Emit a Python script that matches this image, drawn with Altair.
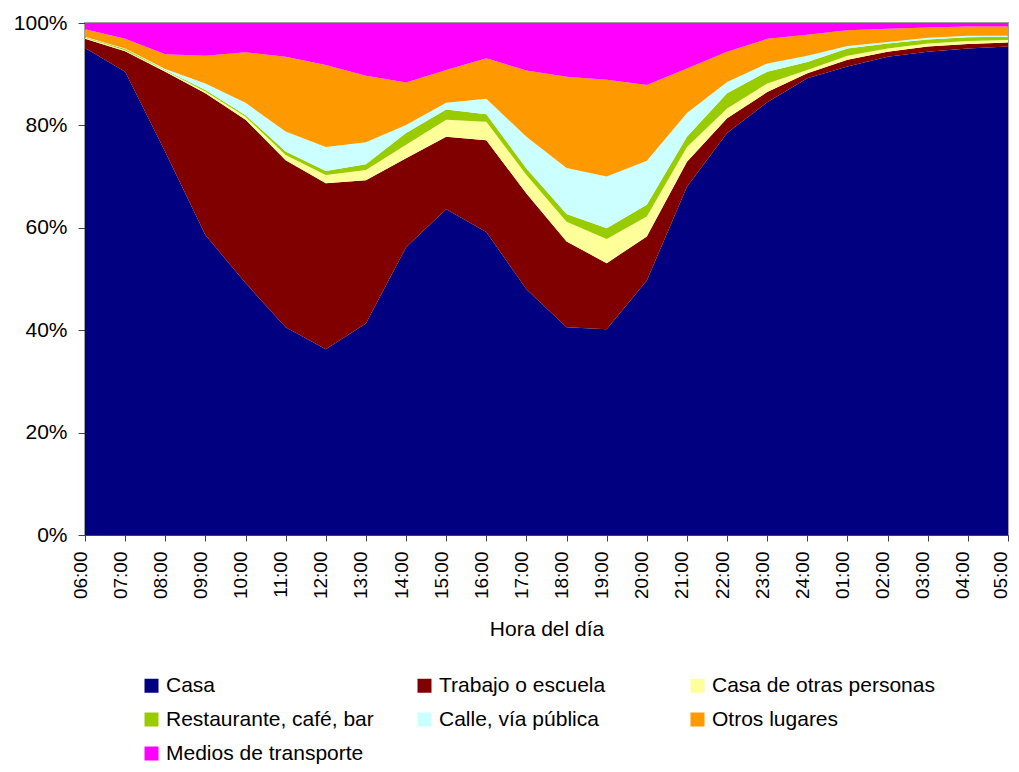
import altair as alt
import pandas as pd

HORAS = ["06:00", "07:00", "08:00", "09:00", "10:00", "11:00", "12:00", "13:00",
         "14:00", "15:00", "16:00", "17:00", "18:00", "19:00", "20:00", "21:00",
         "22:00", "23:00", "24:00", "01:00", "02:00", "03:00", "04:00", "05:00"]

LUGARES = ["Casa", "Trabajo o escuela", "Casa de otras personas",
           "Restaurante, café, bar", "Calle, vía pública", "Otros lugares",
           "Medios de transporte"]

COLORES = ["#000080", "#800000", "#FFFF99", "#99CC00", "#CCFFFF", "#FF9900", "#FF00FF"]

casa = [95.1, 90.5, 74.8, 58.6, 49.2, 40.6, 36.3, 41.3, 56.2, 63.6, 59.2, 48.0,
        40.6, 40.2, 49.7, 68.0, 78.5, 84.5, 89.2, 91.5, 93.4, 94.4, 95.0, 95.4]
trabajo = [1.8, 4.0, 15.7, 27.7, 31.9, 32.6, 32.4, 28.0, 17.4, 14.2, 17.9, 18.7,
           16.7, 12.9, 8.6, 4.9, 2.9, 2.0, 1.0, 1.3, 1.0, 1.0, 0.9, 0.8]
otras_casas = [0.2, 0.2, 0.2, 0.3, 0.6, 1.0, 1.6, 2.0, 2.6, 3.3, 3.6, 3.6,
               3.9, 4.7, 3.9, 2.9, 1.9, 1.7, 0.6, 0.8, 0.6, 0.6, 0.6, 0.5]
restaurante = [0.1, 0.2, 0.1, 0.3, 0.3, 0.7, 0.8, 1.1, 2.3, 2.0, 1.5, 1.3,
               1.5, 2.1, 2.3, 2.0, 3.0, 2.3, 1.6, 1.4, 1.0, 0.8, 0.7, 0.6]
calle = [0.1, 0.1, 0.2, 1.3, 2.4, 3.9, 4.7, 4.3, 1.6, 1.3, 3.0, 6.2,
         9.0, 10.1, 8.6, 4.6, 2.2, 1.6, 1.2, 0.5, 0.3, 0.3, 0.3, 0.2]
otros = [1.5, 1.9, 2.9, 5.4, 9.9, 14.6, 16.0, 13.0, 8.3, 6.4, 7.9, 12.9,
         17.8, 18.9, 14.8, 8.7, 5.9, 4.8, 4.1, 3.1, 2.6, 2.0, 1.8, 1.8]
transporte = [1.2, 3.1, 6.1, 6.4, 5.7, 6.6, 8.2, 10.3, 11.6, 9.2, 6.9, 9.3,
              10.5, 11.1, 12.1, 8.9, 5.6, 3.1, 2.3, 1.4, 1.1, 0.9, 0.7, 0.7]

SERIES = [casa, trabajo, otras_casas, restaurante, calle, otros, transporte]

rows = []
for k, (lugar, serie) in enumerate(zip(LUGARES, SERIES)):
    for hora, v in zip(HORAS, serie):
        rows.append({"hora": hora, "lugar": lugar, "valor": v, "orden": k})
df = pd.DataFrame(rows)

FONT = "Liberation Sans"
ULTIMA = HORAS[-1]

chart = alt.Chart(df).mark_area().encode(
    x=alt.X(
        "hora:O",
        sort=HORAS,
        scale=alt.Scale(padding=0),
        axis=alt.Axis(
            title="Hora del día",
            labelAngle=270,
            labelFontSize=19,
            labelPadding=10,
            labelOffset={"condition": {"test": f"datum.value == '{ULTIMA}'", "value": -8},
                         "value": -5},
            labelColor="#000000",
            tickSize=6,
            tickColor="#404040",
            domainColor="#404040",
            titleFontSize=21,
            titleFontWeight="normal",
            titleColor="#000000",
            titlePadding=20,
        ),
    ),
    y=alt.Y(
        "valor:Q",
        stack="normalize",
        scale=alt.Scale(domain=[0, 1]),
        axis=alt.Axis(
            title=None,
            format=".0%",
            values=[0, 0.2, 0.4, 0.6, 0.8, 1.0],
            labelFontSize=21,
            labelPadding=11,
            labelColor="#000000",
            tickSize=7,
            tickColor="#404040",
            domainColor="#404040",
            grid=False,
        ),
    ),
    color=alt.Color(
        "lugar:N",
        scale=alt.Scale(domain=LUGARES, range=COLORES),
        legend=alt.Legend(
            title=None,
            orient="none",
            legendX=56,
            legendY=652,
            direction="horizontal",
            columns=3,
            gridAlign="all",
            columnPadding=25,
            rowPadding=12,
            symbolType="square",
            symbolSize=196,
            symbolStrokeWidth=0,
            labelFontSize=21,
            labelOffset=4,
            labelLimit=300,
            labelColor="#000000",
            padding=0,
        ),
    ),
    order=alt.Order("orden:Q", sort="ascending"),
).properties(
    width=923,
    height=512,
    autosize=alt.AutoSizeParams(type="none"),
    padding={"left": 77, "top": 15, "right": 3, "bottom": 229},
).configure(
    font=FONT,
).configure_view(
    stroke="#a0a0a0",
    strokeWidth=2,
)

chart.save("out.html", embed_options={"renderer": "svg", "actions": False})
